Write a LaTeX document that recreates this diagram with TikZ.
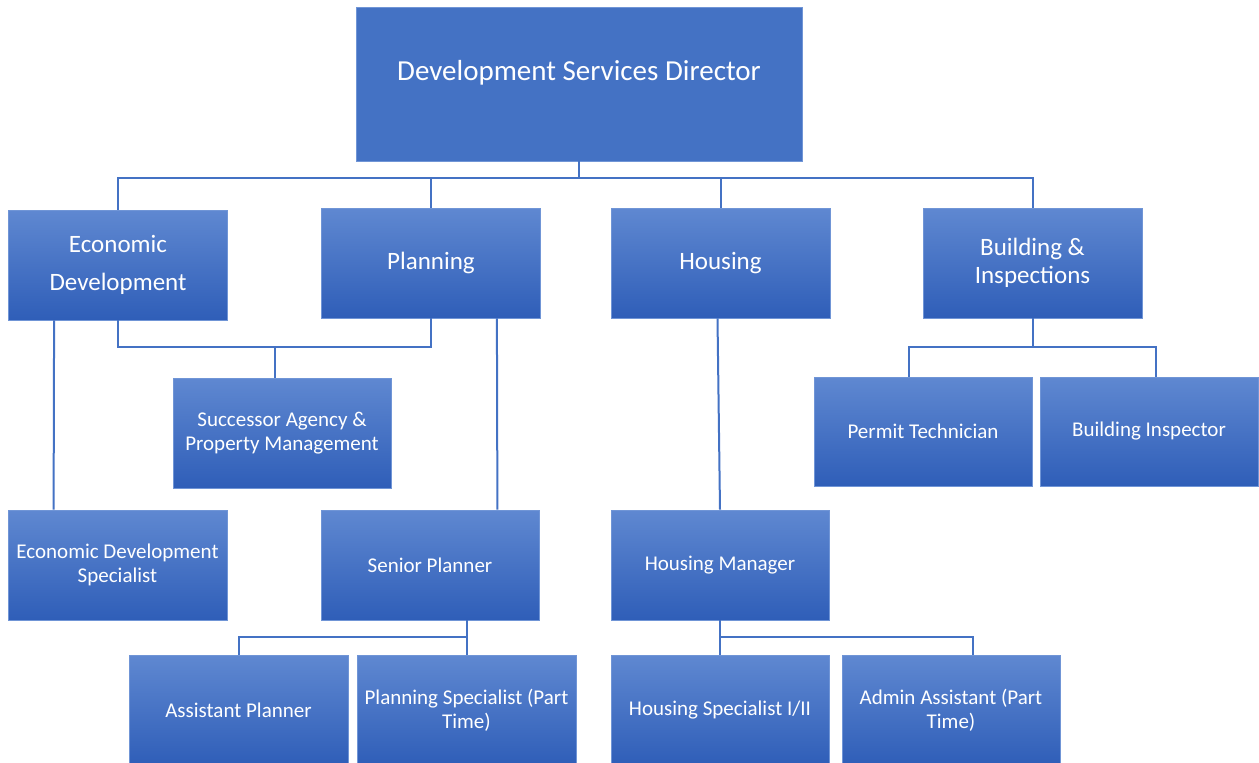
\documentclass[tikz,border=0pt]{standalone}
\usepackage{fontspec}
\setmainfont{Carlito}
\definecolor{linkblue}{HTML}{4472C4}
\definecolor{boxtop}{HTML}{5F88D1}
\definecolor{boxmid}{HTML}{4271C5}
\definecolor{boxbot}{HTML}{2F5EB8}
\definecolor{boxedge}{HTML}{7095D6}
\tikzset{
  unit/.style={rectangle, draw=boxedge, line width=0.8pt, top color=boxtop,
    middle color=boxmid, bottom color=boxbot, text=white, align=center,
    inner sep=2pt},
  dept/.style={unit, minimum width=219pt, minimum height=110pt,
    font=\fontsize{25}{38}\selectfont},
  role/.style={unit, minimum width=218pt, minimum height=110pt,
    font=\fontsize{21}{24}\selectfont},
  link/.style={draw=linkblue, line width=2pt}
}
\begin{document}
\begin{tikzpicture}[x=1pt, y=-1pt]
\useasboundingbox (0,0) rectangle (1259,763);
\clip (0,0) rectangle (1259,763);

% director
\node[rectangle, fill=linkblue, draw=boxedge, line width=0.8pt, text=white,
  minimum width=446pt, minimum height=154pt, text height=20pt, text depth=28pt,
  font=\fontsize{29}{34}\selectfont] (dir) at (579,84) {Development Services Director};

% departments
\node[dept] (ed) at (118,265) {Economic\\Development};
\node[dept] (pl) at (431,263) {Planning};
\node[dept] (ho) at (720.5,263) {Housing};
\node[dept, font=\fontsize{25}{28}\selectfont] (bi) at (1032.5,263) {Building \&\\Inspections};

% third level
\node[role] (sa) at (282,433) {Successor Agency \&\\Property Management};
\node[role, minimum width=219pt] (eds) at (117.5,565) {Economic Development\\Specialist};
\node[role] (sp) at (430,565) {Senior Planner};
\node[role] (hm) at (720,565) {Housing Manager};
\node[role, minimum height=109pt] (pt) at (923,431.5) {Permit Technician};
\node[role, minimum height=109pt] (bin) at (1149,431.5) {Building Inspector};

% fourth level
\node[role, minimum width=219pt] (ap) at (238.5,710) {Assistant Planner};
\node[role, minimum width=219pt] (ps) at (466.5,710) {Planning Specialist (Part\\Time)};
\node[role] (hs) at (720,710) {Housing Specialist I/II};
\node[role] (aa) at (951,710) {Admin Assistant (Part\\Time)};

% director to departments
\draw[link] (dir.south) -- ++(0,17) coordinate (bus);
\draw[link] (ed.north) |- (bus) -| (bi.north);
\draw[link] (pl.north) -- (pl.north |- bus);
\draw[link] (ho.north) -- (ho.north |- bus);

% economic development and planning share the successor agency
\draw[link] (ed.south) -- ++(0,27) coordinate (sabus) -| (pl.south);
\draw[link] ([xshift=-7pt]sa.north) -- ([xshift=-7pt]sa.north |- sabus);

% direct reports
\draw[link] ([xshift=46pt]ed.south west) -- ([xshift=46pt]eds.north west);
\draw[link] ([xshift=-44pt]pl.south east) -- ([xshift=-42pt]sp.north east);
\draw[link] ([xshift=-3pt]ho.south) -- (hm.north);

% building and inspections
\draw[link] (bi.south) -- ++(0,29) coordinate (bibus);
\draw[link] ([xshift=-14pt]pt.north) |- (bibus) -| ([xshift=7pt]bin.north);

% senior planner
\draw[link] (ps.north |- sp.south) -- (ps.north);
\draw[link] (ap.north) -- ++(0,-18) -| (ps.north);

% housing manager
\draw[link] (hm.south) -- (hs.north);
\draw[link] ([yshift=18pt]hs.north) -| ([xshift=22pt]aa.north);
\end{tikzpicture}
\end{document}
